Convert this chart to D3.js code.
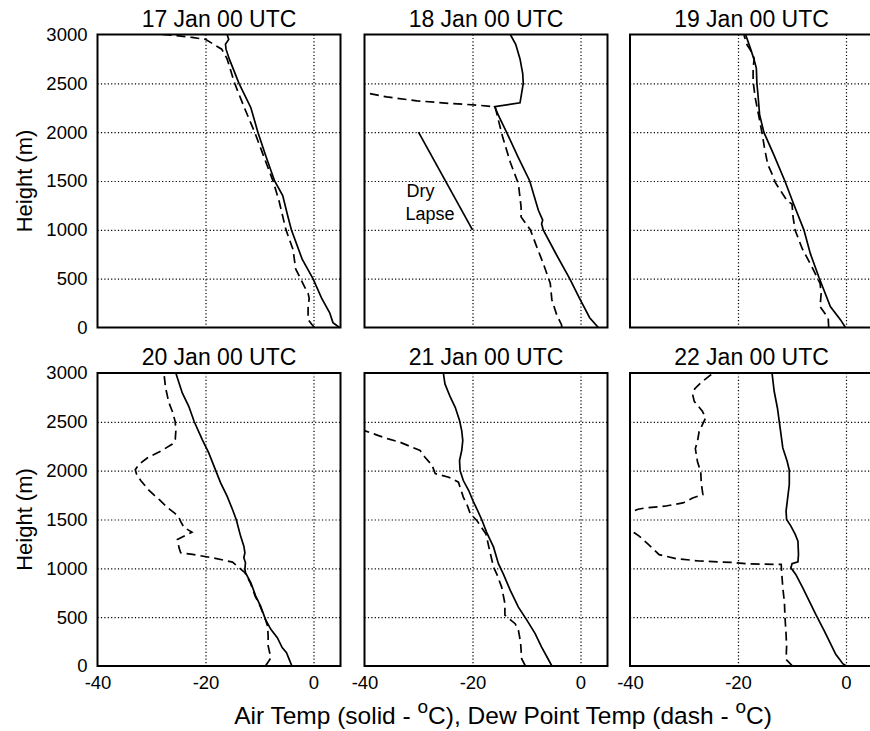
<!DOCTYPE html>
<html>
<head>
<meta charset="utf-8">
<script src="https://cdn.jsdelivr.net/npm/d3@7"></script>
<style>
body { margin: 0; background: #fff; }
svg { display: block; font-family: "Liberation Sans", Arial, Helvetica, sans-serif; }
.grid line { stroke: #000; stroke-width: 1.2; stroke-dasharray: 1.2,2.2; }
.grid path { display: none; }
.tick_axis path { display: none; }
.tick_axis text { font-size: 18.5px; fill: #000; }
.air { fill: none; stroke: #000; stroke-width: 1.7; }
.dew { fill: none; stroke: #000; stroke-width: 1.7; stroke-dasharray: 9,5; }
.frame { fill: none; stroke: #000; stroke-width: 2; }
</style>
</head>
<body>
<svg id="chart" width="870" height="731"></svg>
<script>
// 各サウンディングのデータ [高度(m), 気温(°C)]
const panel_titles = ['17 Jan 00 UTC', '18 Jan 00 UTC', '19 Jan 00 UTC',
                      '20 Jan 00 UTC', '21 Jan 00 UTC', '22 Jan 00 UTC'];
const x_ticks = [-40, -20, 0];
const y_ticks = [0, 500, 1000, 1500, 2000, 2500, 3000];
const grid_x = [-20, 0];
const grid_y = [500, 1000, 1500, 2000, 2500];

const air_17 = [[0,4.8],[50,3.6],[150,3.0],[300,1.5],[500,-0.1],[700,-2.1],[1000,-4.1],[1150,-4.8],
    [1350,-5.7],[1500,-7.2],[1750,-8.8],[2000,-10.3],[2250,-11.6],[2500,-13.8],[2750,-15.6],
    [2850,-16.2],[2900,-16.3],[2950,-15.7],[3000,-16.0]];
const dew_17 = [[0,0.2],[30,-0.3],[80,-1.0],[200,-1.0],[300,-0.8],[350,-1.0],[420,-1.7],[500,-2.4],
    [600,-3.3],[800,-3.8],[1000,-5.1],[1300,-6.4],[1500,-7.5],[1750,-9.2],[2000,-10.9],[2250,-12.8],
    [2500,-14.6],[2750,-16.0],[2850,-17.0],[2900,-18.5],[2950,-20.0],[2970,-22.5],[2990,-25.5],[3000,-28.0]];

const air_18 = [[0,3.3],[100,1.7],[300,-0.2],[500,-2.0],[750,-4.5],[1000,-6.9],[1060,-7.2],[1100,-7.0],
    [1200,-7.8],[1350,-8.6],[1500,-9.4],[1750,-11.6],[2000,-13.7],[2150,-15.0],[2260,-15.9],[2300,-11.2],
    [2400,-10.9],[2500,-10.6],[2600,-10.7],[2750,-11.2],[2900,-12.0],[3000,-13.0]];
const dew_18 = [[0,-3.5],[27,-3.5],[129,-4.4],[282,-5.3],[452,-5.6],[656,-6.9],[826,-8.1],[1002,-9.3],
    [1131,-11.0],[1233,-11.0],[1471,-11.5],[1692,-13.0],[1947,-14.4],[2100,-15.1],[2260,-15.8],
    [2277,-19.2],[2294,-24.1],[2321,-30.3],[2361,-35.9],[2406,-40.0],[2450,-44.0]];

const air_19 = [[0,-0.1],[78,-1.0],[214,-2.9],[512,-5.0],[756,-6.6],[1000,-7.8],[1264,-9.7],[1498,-11.3],
    [1773,-13.4],[1997,-15.2],[2180,-16.0],[2383,-16.3],[2498,-16.5],[2654,-16.6],[2739,-17.0],
    [2858,-17.7],[3000,-18.6]];
const dew_19 = [[0,-3.2],[95,-3.3],[214,-4.8],[349,-4.6],[451,-4.8],[620,-6.3],[807,-8.1],[993,-9.4],
    [1129,-9.8],[1264,-10.0],[1298,-10.9],[1485,-13.1],[1535,-13.4],[1671,-14.5],[1841,-15.1],
    [1976,-15.5],[2180,-16.2],[2349,-16.8],[2519,-17.2],[2654,-17.2],[2756,-17.0],[2841,-17.7],
    [2892,-18.3],[2993,-18.9]];

const air_20 = [[0,-4.0],[68,-4.5],[136,-5.0],[188,-5.8],[290,-6.7],[375,-7.9],[477,-8.9],[614,-9.8],
    [716,-10.7],[852,-11.6],[955,-12.6],[996,-12.7],[1057,-12.6],[1108,-12.9],[1159,-12.7],[1227,-12.9],
    [1330,-13.5],[1497,-14.3],[1602,-15.0],[1739,-16.0],[1875,-17.2],[2001,-18.1],[2182,-19.4],
    [2318,-20.6],[2503,-22.1],[2659,-23.1],[2796,-24.3],[3000,-25.5]];
const dew_20 = [[0,-8.9],[40,-8.4],[85,-7.9],[205,-8.4],[307,-8.4],[409,-8.5],[477,-8.9],[614,-9.9],
    [716,-10.8],[852,-11.7],[955,-12.7],[1023,-14.1],[1064,-15.0],[1108,-18.7],[1142,-22.4],
    [1159,-24.6],[1210,-24.9],[1296,-25.2],[1370,-22.5],[1420,-24.0],[1480,-24.6],[1530,-25.0],
    [1560,-25.6],[1620,-27.0],[1700,-28.5],[1800,-30.5],[1900,-32.0],[1970,-32.8],[2010,-33.0],
    [2060,-32.4],[2130,-30.8],[2200,-28.3],[2270,-26.2],[2320,-25.6],[2400,-25.5],[2500,-25.6],
    [2600,-26.1],[2700,-26.8],[2850,-27.4],[3000,-27.7]];

const air_21 = [[0,-5.3],[92,-6.2],[194,-7.2],[331,-8.4],[467,-9.9],[603,-11.5],[774,-13.0],[944,-14.3],
    [1047,-15.2],[1217,-16.1],[1371,-17.4],[1500,-18.3],[1609,-19.2],[1677,-19.8],[1797,-20.7],
    [1899,-21.7],[2001,-22.3],[2104,-22.4],[2206,-22.0],[2308,-21.8],[2411,-22.0],[2513,-22.4],
    [2649,-23.2],[2752,-24.1],[2888,-25.1],[3000,-25.4]];
const dew_21 = [[0,-10.2],[75,-10.9],[245,-11.1],[365,-11.5],[433,-12.1],[520,-14.0],[640,-14.0],
    [808,-14.6],[940,-15.5],[1013,-16.1],[1200,-16.9],[1350,-17.5],[1490,-19.2],[1558,-20.4],
    [1650,-21.0],[1729,-21.7],[1882,-22.6],[1933,-24.4],[1970,-26.9],[2056,-27.5],[2138,-28.8],
    [2206,-29.7],[2240,-31.2],[2291,-33.4],[2325,-35.6],[2359,-37.4],[2410,-40.0],[2450,-43.0]];

const air_22 = [[0,0.1],[24,-0.6],[68,-1.2],[119,-1.9],[222,-2.8],[358,-4.0],[528,-5.6],[665,-6.8],
    [801,-8.0],[938,-9.3],[1006,-10.2],[1047,-10.0],[1067,-8.9],[1142,-8.8],[1279,-8.9],[1347,-9.4],
    [1432,-10.2],[1500,-11.0],[1585,-11.1],[1722,-10.8],[1858,-10.5],[2005,-10.5],[2097,-10.9],
    [2233,-11.7],[2438,-12.2],[2642,-12.7],[2813,-13.3],[3000,-13.7]];
const dew_22 = [[0,-9.9],[68,-11.1],[200,-11.0],[330,-11.1],[500,-11.3],[650,-11.4],[800,-11.7],
    [950,-11.9],[1040,-12.0],[1045,-17.9],[1060,-21.0],[1075,-27.2],[1100,-31.5],[1140,-34.6],
    [1250,-36.7],[1330,-38.3],[1364,-39.2],[1450,-41.0],[1550,-41.0],[1605,-38.5],[1620,-37.0],
    [1636,-33.6],[1670,-30.2],[1720,-28.4],[1755,-26.5],[1870,-26.8],[1990,-26.9],[2090,-27.5],
    [2226,-27.9],[2300,-27.5],[2400,-27.2],[2540,-26.0],[2610,-26.6],[2710,-28.1],[2780,-28.4],
    [2840,-28.0],[2900,-26.9],[2983,-25.0],[3000,-24.8]];

const air_list = [air_17, air_18, air_19, air_20, air_21, air_22];
const dew_list = [dew_17, dew_18, dew_19, dew_20, dew_21, dew_22];

// 乾燥断熱減率の参考線 (18日のパネル)
const dry_lapse = [[1000,-20],[2000,-30]];

// レイアウト
const col_left = [97.5, 364.5, 630];
const row_top = [34.5, 373];
const panel_w = 243;
const panel_h = 293;

const svg = d3.select('#chart');
const x = d3.scaleLinear().domain([-40, 5]).range([0, panel_w]);
const y = d3.scaleLinear().domain([0, 3000]).range([panel_h, 0]);
const line = d3.line().x(d => x(d[1])).y(d => y(d[0]));
// 桁区切りなし、マイナスはハイフン
const plain_fmt = d => String(d);

function draw_panel(i) {
    let col = i % 3, row = Math.floor(i / 3);
    let g = svg.append('g')
        .attr('transform', `translate(${col_left[col]},${row_top[row]})`)
    ;
    g.append('clipPath').attr('id', 'clip' + i)
        .append('rect').attr('width', panel_w).attr('height', panel_h)
    ;

    // グリッド(点線)
    g.append('g').attr('class', 'grid')
        .call(d3.axisBottom(x).tickValues(grid_x).tickSize(panel_h).tickFormat(''))
    ;
    g.append('g').attr('class', 'grid')
        .call(d3.axisLeft(y).tickValues(grid_y).tickSize(-panel_w).tickFormat(''))
    ;

    let plot = g.append('g').attr('clip-path', `url(#clip${i})`);
    plot.append('path').datum(dew_list[i]).attr('class', 'dew').attr('d', line);
    plot.append('path').datum(air_list[i]).attr('class', 'air').attr('d', line);

    if (i == 1) {
        plot.append('path').datum(dry_lapse).attr('class', 'air').attr('d', line);
        g.append('text').attr('x', x(-32.2)).attr('y', y(1335))
            .style('font-size', '18px').text('Dry');
        g.append('text').attr('x', x(-32.4)).attr('y', y(1100))
            .style('font-size', '18px').text('Lapse');
    }

    g.append('rect').attr('class', 'frame')
        .attr('width', panel_w).attr('height', panel_h)
    ;

    // タイトル
    g.append('text')
        .attr('x', panel_w / 2).attr('y', -8)
        .attr('text-anchor', 'middle')
        .style('font-size', '23px')
        .text(panel_titles[i])
    ;

    if (col == 0) {
        g.append('g').attr('class', 'tick_axis')
            .call(d3.axisLeft(y).tickValues(y_ticks).tickSize(0).tickPadding(10).tickFormat(plain_fmt))
        ;
        g.append('text')
            .attr('transform', `translate(-66,${panel_h / 2}) rotate(-90)`)
            .attr('text-anchor', 'middle')
            .style('font-size', '22px')
            .text('Height (m)')
        ;
    }
    if (row == 1) {
        g.append('g').attr('class', 'tick_axis')
            .attr('transform', `translate(0,${panel_h})`)
            .call(d3.axisBottom(x).tickValues(x_ticks).tickSize(0).tickPadding(10).tickFormat(plain_fmt))
        ;
    }
}

for (let i = 0; i < 6; i++) draw_panel(i);

// x軸ラベル
let xlab = svg.append('text')
    .attr('x', 503).attr('y', 724)
    .attr('text-anchor', 'middle')
    .style('font-size', '24.5px')
;
xlab.append('tspan').text('Air Temp (solid - ');
xlab.append('tspan').attr('dy', -11).style('font-size', '19px').text('o');
xlab.append('tspan').attr('dy', 11).text('C), Dew Point Temp (dash - ');
xlab.append('tspan').attr('dy', -11).style('font-size', '19px').text('o');
xlab.append('tspan').attr('dy', 11).text('C)');
</script>
</body>
</html>
